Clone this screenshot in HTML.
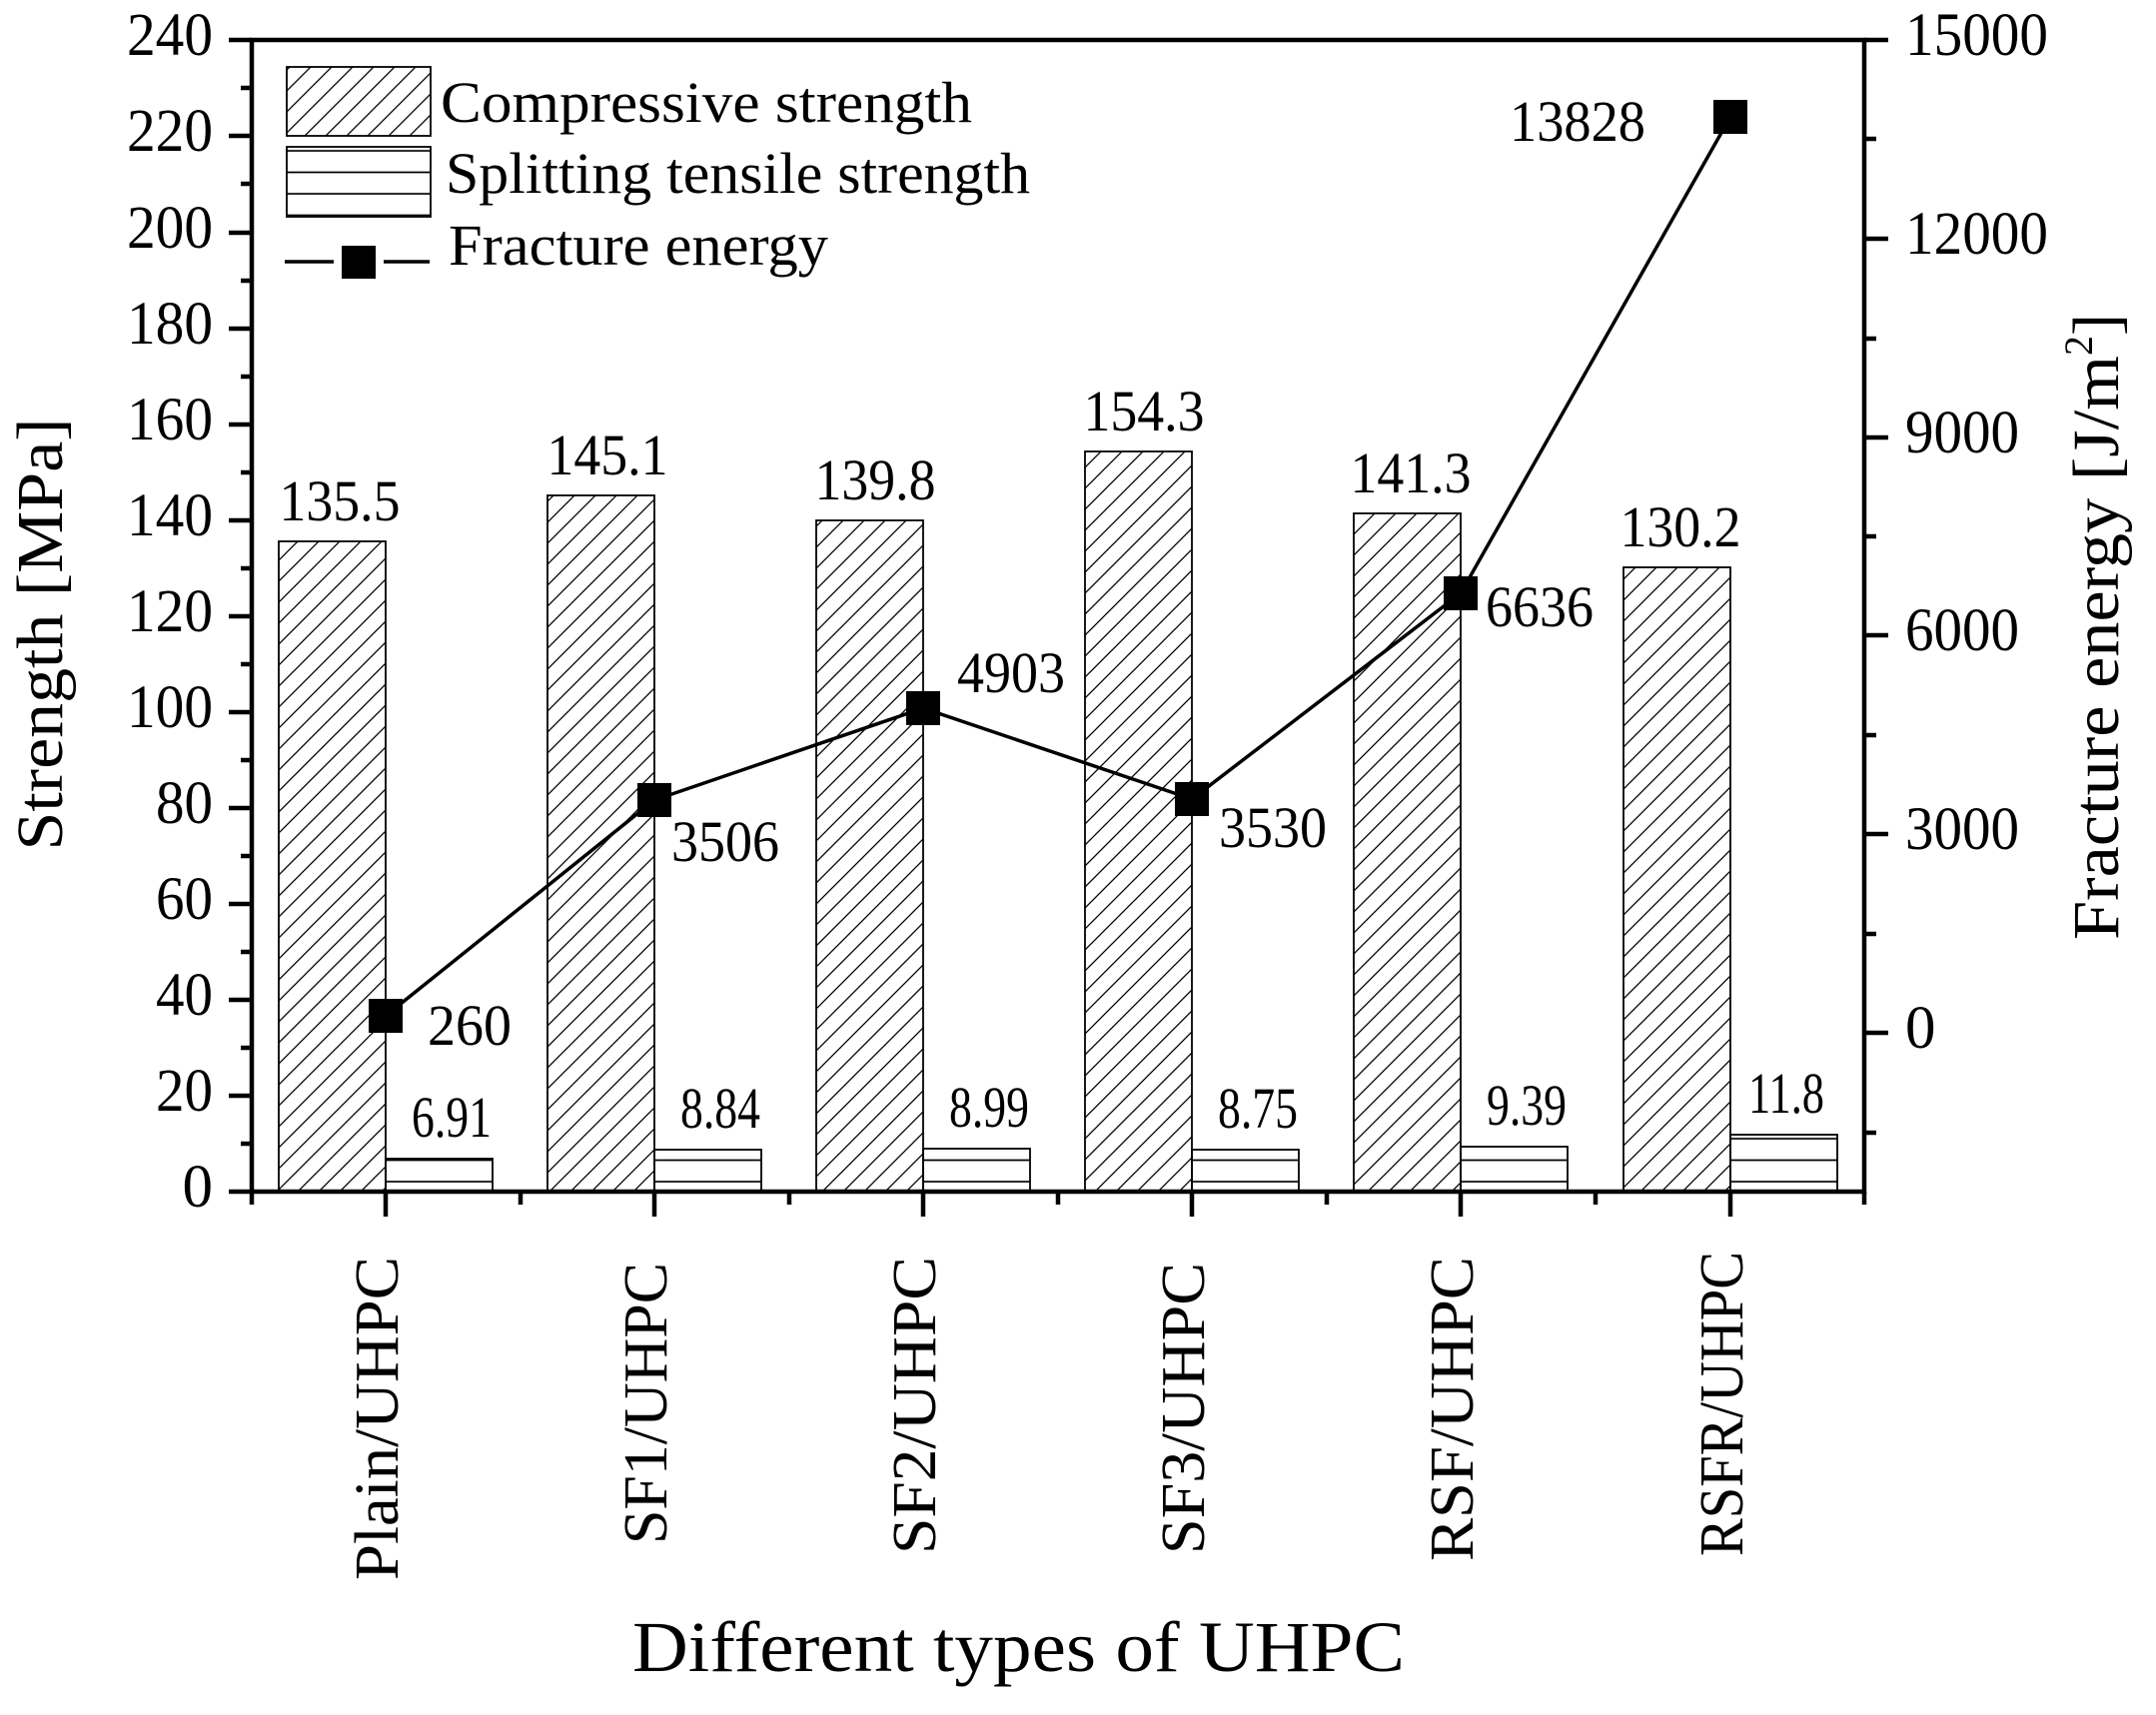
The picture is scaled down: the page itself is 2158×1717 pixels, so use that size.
<!DOCTYPE html>
<html><head><meta charset="utf-8"><style>html,body{margin:0;padding:0;background:#fff}svg{display:block}</style></head>
<body>
<svg width="2158" height="1717" viewBox="0 0 2158 1717" xmlns="http://www.w3.org/2000/svg" font-family="'Liberation Serif', serif" fill="#000">
<defs>
<pattern id="diag" patternUnits="userSpaceOnUse" width="21" height="21">
<path d="M-2,23 L23,-2 M-5,5 L5,-5 M16,26 L26,16" stroke="#000" stroke-width="1.3"/>
</pattern>
<pattern id="horiz" patternUnits="userSpaceOnUse" width="20" height="21.5" y="-10.25">
<line x1="0" y1="10.75" x2="20" y2="10.75" stroke="#000" stroke-width="1.8"/>
</pattern>
</defs>
<rect width="2158" height="1717" fill="#fff"/>

<g stroke="#000" stroke-width="1.8">
<rect x="279" y="542" width="107" height="651" fill="url(#diag)"/>
<rect x="386" y="1160" width="107" height="33" fill="url(#horiz)"/>
<rect x="548" y="496" width="107" height="697" fill="url(#diag)"/>
<rect x="655" y="1151" width="107" height="42" fill="url(#horiz)"/>
<rect x="817" y="521" width="107" height="672" fill="url(#diag)"/>
<rect x="924" y="1150" width="107" height="43" fill="url(#horiz)"/>
<rect x="1086" y="452" width="107" height="741" fill="url(#diag)"/>
<rect x="1193" y="1151" width="107" height="42" fill="url(#horiz)"/>
<rect x="1355" y="514" width="107" height="679" fill="url(#diag)"/>
<rect x="1462" y="1148" width="107" height="45" fill="url(#horiz)"/>
<rect x="1625" y="568" width="107" height="625" fill="url(#diag)"/>
<rect x="1732" y="1136" width="107" height="57" fill="url(#horiz)"/>
</g>

<polyline points="386,1017 655,801 924,709 1193,800 1462,594 1732,117" fill="none" stroke="#000" stroke-width="3.5"/>
<g>
<rect x="369" y="1000" width="34" height="34"/>
<rect x="638" y="784" width="34" height="34"/>
<rect x="907" y="692" width="34" height="34"/>
<rect x="1176" y="783" width="34" height="34"/>
<rect x="1445" y="577" width="34" height="34"/>
<rect x="1715" y="100" width="34" height="34"/>
</g>

<g stroke="#000" stroke-width="4.5" fill="none">
<rect x="252" y="40" width="1614" height="1153"/>
</g>
<g stroke="#000" stroke-width="4.5">
<path d="M229,40H252 M229,136H252 M229,233H252 M229,329H252 M229,425H252 M229,521H252 M229,617H252 M229,713H252 M229,809H252 M229,905H252 M229,1001H252 M229,1097H252 M229,1193H252"/>
<path d="M241,88H252 M241,184H252 M241,281H252 M241,377H252 M241,473H252 M241,569H252 M241,665H252 M241,761H252 M241,857H252 M241,953H252 M241,1049H252 M241,1145H252"/>
<path d="M1866,40H1890 M1866,239H1890 M1866,438H1890 M1866,636H1890 M1866,835H1890 M1866,1034H1890"/>
<path d="M1866,139H1878 M1866,339H1878 M1866,537H1878 M1866,736H1878 M1866,935H1878 M1866,1134H1878"/>
<path d="M386,1193V1218 M655,1193V1218 M924,1193V1218 M1193,1193V1218 M1462,1193V1218 M1732,1193V1218"/>
<path d="M252,1193V1206 M521,1193V1206 M790,1193V1206 M1059,1193V1206 M1328,1193V1206 M1597,1193V1206 M1866,1193V1206"/>
</g>

<g font-size="61" text-anchor="end" lengthAdjust="spacingAndGlyphs">
<text x="213" y="55" textLength="86" lengthAdjust="spacingAndGlyphs">240</text><text x="213" y="151" textLength="86" lengthAdjust="spacingAndGlyphs">220</text><text x="213" y="248" textLength="86" lengthAdjust="spacingAndGlyphs">200</text>
<text x="213" y="344" textLength="86" lengthAdjust="spacingAndGlyphs">180</text><text x="213" y="440" textLength="86" lengthAdjust="spacingAndGlyphs">160</text><text x="213" y="536" textLength="86" lengthAdjust="spacingAndGlyphs">140</text>
<text x="213" y="632" textLength="86" lengthAdjust="spacingAndGlyphs">120</text><text x="213" y="728" textLength="86" lengthAdjust="spacingAndGlyphs">100</text><text x="213" y="824" textLength="57" lengthAdjust="spacingAndGlyphs">80</text>
<text x="213" y="920" textLength="57" lengthAdjust="spacingAndGlyphs">60</text><text x="213" y="1016" textLength="57" lengthAdjust="spacingAndGlyphs">40</text><text x="213" y="1112" textLength="57" lengthAdjust="spacingAndGlyphs">20</text>
<text x="213" y="1208">0</text>
</g>
<g font-size="61">
<text x="1907" y="55" textLength="143" lengthAdjust="spacingAndGlyphs">15000</text><text x="1907" y="254" textLength="143" lengthAdjust="spacingAndGlyphs">12000</text><text x="1907" y="453" textLength="114" lengthAdjust="spacingAndGlyphs">9000</text>
<text x="1907" y="651" textLength="114" lengthAdjust="spacingAndGlyphs">6000</text><text x="1907" y="850" textLength="114" lengthAdjust="spacingAndGlyphs">3000</text><text x="1907" y="1049">0</text>
</g>

<g font-size="58" text-anchor="middle">
<text x="340" y="521" textLength="121" lengthAdjust="spacingAndGlyphs">135.5</text><text x="608" y="475" textLength="121" lengthAdjust="spacingAndGlyphs">145.1</text><text x="876" y="500" textLength="121" lengthAdjust="spacingAndGlyphs">139.8</text>
<text x="1145" y="431" textLength="121" lengthAdjust="spacingAndGlyphs">154.3</text><text x="1412" y="493" textLength="121" lengthAdjust="spacingAndGlyphs">141.3</text><text x="1682" y="547" textLength="121" lengthAdjust="spacingAndGlyphs">130.2</text>
<text x="452" y="1138" textLength="80" lengthAdjust="spacingAndGlyphs">6.91</text><text x="721" y="1129" textLength="80" lengthAdjust="spacingAndGlyphs">8.84</text><text x="990" y="1128" textLength="80" lengthAdjust="spacingAndGlyphs">8.99</text>
<text x="1259" y="1129" textLength="80" lengthAdjust="spacingAndGlyphs">8.75</text><text x="1528" y="1126" textLength="80" lengthAdjust="spacingAndGlyphs">9.39</text><text x="1788" y="1114" textLength="76" lengthAdjust="spacingAndGlyphs">11.8</text>
</g>
<g font-size="58">
<text x="428" y="1046" textLength="84" lengthAdjust="spacingAndGlyphs">260</text>
<text x="672" y="862" textLength="108" lengthAdjust="spacingAndGlyphs">3506</text>
<text x="958" y="693" textLength="108" lengthAdjust="spacingAndGlyphs">4903</text>
<text x="1220" y="848" textLength="108" lengthAdjust="spacingAndGlyphs">3530</text>
<text x="1487" y="627" textLength="108" lengthAdjust="spacingAndGlyphs">6636</text>
<text x="1511" y="141" textLength="136" lengthAdjust="spacingAndGlyphs">13828</text>
</g>

<rect x="287" y="67" width="144" height="69" fill="url(#diag)" stroke="#000" stroke-width="1.8"/>
<rect x="287" y="147" width="144" height="70" fill="url(#horiz)" stroke="#000" stroke-width="1.8"/>
<line x1="285" y1="262" x2="334" y2="262" stroke="#000" stroke-width="3.5"/>
<line x1="384" y1="262" x2="430" y2="262" stroke="#000" stroke-width="3.5"/>
<rect x="342" y="246" width="34" height="33"/>
<g font-size="58">
<text x="441" y="122" textLength="532" lengthAdjust="spacingAndGlyphs">Compressive strength</text>
<text x="446" y="193" textLength="585" lengthAdjust="spacingAndGlyphs">Splitting tensile strength</text>
<text x="449" y="265" textLength="380" lengthAdjust="spacingAndGlyphs">Fracture energy</text>
</g>

<g font-size="62" text-anchor="end">
<text transform="translate(398,1258) rotate(-90)" textLength="324" lengthAdjust="spacingAndGlyphs">Plain/UHPC</text>
<text transform="translate(667,1264) rotate(-90)" textLength="282" lengthAdjust="spacingAndGlyphs">SF1/UHPC</text>
<text transform="translate(936,1258) rotate(-90)" textLength="298" lengthAdjust="spacingAndGlyphs">SF2/UHPC</text>
<text transform="translate(1205,1264) rotate(-90)" textLength="292" lengthAdjust="spacingAndGlyphs">SF3/UHPC</text>
<text transform="translate(1474,1258) rotate(-90)" textLength="305" lengthAdjust="spacingAndGlyphs">RSF/UHPC</text>
<text transform="translate(1744,1253) rotate(-90)" textLength="305" lengthAdjust="spacingAndGlyphs">RSFR/UHPC</text>
</g>

<text x="633" y="1673" font-size="72" textLength="773" lengthAdjust="spacingAndGlyphs">Different types of UHPC</text>
<text transform="translate(62,635) rotate(-90)" font-size="66" text-anchor="middle" textLength="433" lengthAdjust="spacingAndGlyphs">Strength [MPa]</text>
<text transform="translate(2120,941) rotate(-90)" font-size="66"><tspan textLength="585" lengthAdjust="spacingAndGlyphs">Fracture energy [J/m</tspan><tspan font-size="40" dy="-26">2</tspan><tspan dy="26">]</tspan></text>
</svg>
</body></html>
